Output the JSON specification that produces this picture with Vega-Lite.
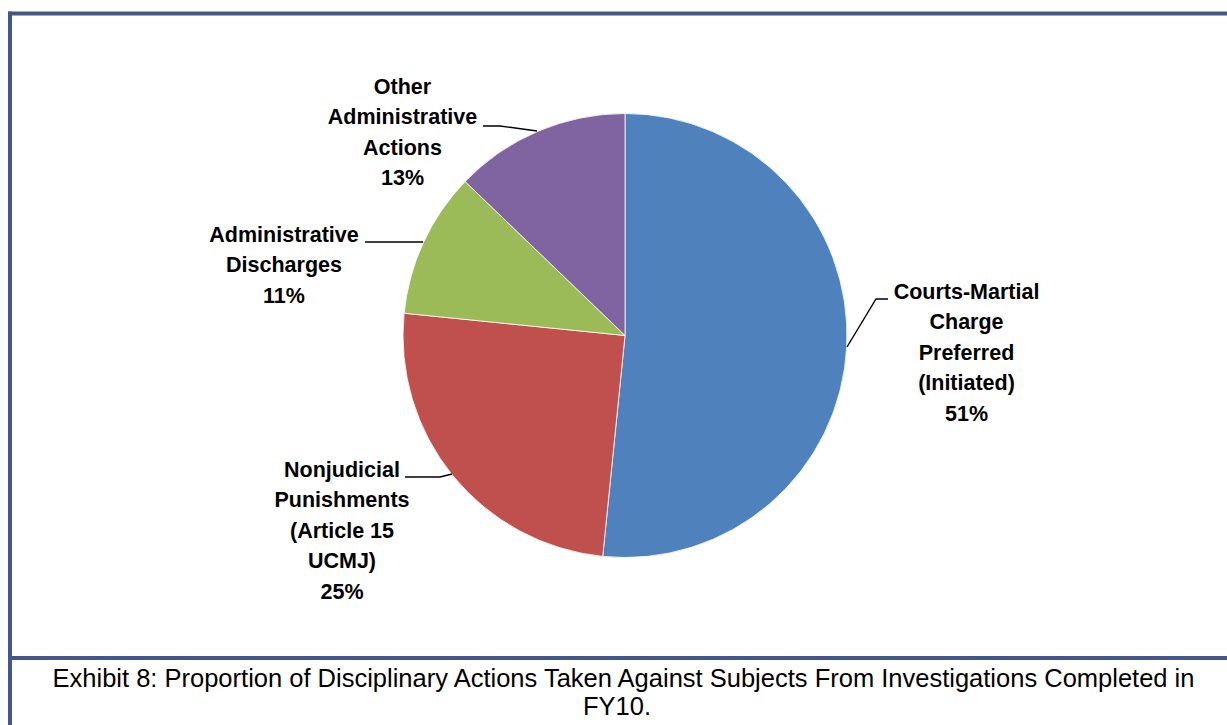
{
  "$schema": "https://vega.github.io/schema/vega-lite/v6.json",
  "width": 1204,
  "height": 671,
  "autosize": {"type": "none"},
  "padding": {"left": 23, "top": 0, "right": 0, "bottom": 54},
  "background": "white",
  "config": {"view": {"stroke": null}},
  "datasets": {
    "slices": [
      {"category": "Courts-Martial Charge Preferred (Initiated)", "value": 51.6, "idx": 1},
      {"category": "Nonjudicial Punishments (Article 15 UCMJ)", "value": 25.0, "idx": 2},
      {"category": "Administrative Discharges", "value": 10.6, "idx": 3},
      {"category": "Other Administrative Actions", "value": 12.8, "idx": 4}
    ],
    "labels": [
      {"lines": ["Courts-Martial", "Charge", "Preferred", "(Initiated)", "51%"], "lx": 966.5, "ly": 292.5},
      {"lines": ["Nonjudicial", "Punishments", "(Article 15", "UCMJ)", "25%"], "lx": 342, "ly": 470.5},
      {"lines": ["Administrative", "Discharges", "11%"], "lx": 284, "ly": 235.5},
      {"lines": ["Other", "Administrative", "Actions", "13%"], "lx": 402.5, "ly": 87.5}
    ],
    "leaders": [
      {"seg": "courts", "i": 0, "lx": 888, "ly": 299},
      {"seg": "courts", "i": 1, "lx": 876, "ly": 299},
      {"seg": "courts", "i": 2, "lx": 847, "ly": 347},
      {"seg": "other", "i": 0, "lx": 483, "ly": 126},
      {"seg": "other", "i": 1, "lx": 500, "ly": 126},
      {"seg": "other", "i": 2, "lx": 537, "ly": 131},
      {"seg": "discharges", "i": 0, "lx": 365, "ly": 242},
      {"seg": "discharges", "i": 1, "lx": 423, "ly": 242},
      {"seg": "nonjudicial", "i": 0, "lx": 405, "ly": 477},
      {"seg": "nonjudicial", "i": 1, "lx": 440, "ly": 477},
      {"seg": "nonjudicial", "i": 2, "lx": 452, "ly": 474}
    ],
    "frame": [
      {"x1": 8, "x2": 1227, "y1": 13.5, "y2": 13.5},
      {"x1": 10, "x2": 10, "y1": 11.5, "y2": 725},
      {"x1": 8, "x2": 1227, "y1": 658, "y2": 658}
    ],
    "caption": [
      {"text": "Exhibit 8: Proportion of Disciplinary Actions Taken Against Subjects From Investigations Completed in", "lx": 623.5, "ly": 678.5},
      {"text": "FY10.", "lx": 617, "ly": 707}
    ]
  },
  "layer": [
    {
      "data": {"name": "slices"},
      "mark": {"type": "arc", "outerRadius": 222, "stroke": "white", "strokeWidth": 0.8},
      "encoding": {
        "theta": {"field": "value", "type": "quantitative", "stack": true},
        "order": {"field": "idx", "type": "quantitative"},
        "color": {
          "field": "category",
          "type": "nominal",
          "scale": {
            "domain": ["Courts-Martial Charge Preferred (Initiated)", "Nonjudicial Punishments (Article 15 UCMJ)", "Administrative Discharges", "Other Administrative Actions"],
            "range": ["#4F81BD", "#C0504D", "#9BBB59", "#8064A2"]
          },
          "legend": null
        }
      }
    },
    {
      "data": {"name": "frame"},
      "mark": {"type": "rule", "strokeWidth": 4, "color": "#44578A"},
      "encoding": {
        "x": {"field": "x1", "type": "quantitative", "scale": {"domain": [23, 1227], "nice": false, "zero": false}, "axis": null},
        "x2": {"field": "x2"},
        "y": {"field": "y1", "type": "quantitative", "scale": {"domain": [0, 671], "reverse": true, "nice": false, "zero": false}, "axis": null},
        "y2": {"field": "y2"}
      }
    },
    {
      "data": {"name": "leaders"},
      "mark": {"type": "line", "color": "#000000", "strokeWidth": 1.4},
      "encoding": {
        "x": {"field": "lx", "type": "quantitative"},
        "y": {"field": "ly", "type": "quantitative"},
        "detail": {"field": "seg", "type": "nominal"},
        "order": {"field": "i", "type": "quantitative"}
      }
    },
    {
      "data": {"name": "labels"},
      "mark": {"type": "text", "font": "Liberation Sans", "fontWeight": "bold", "fontSize": 21.5, "lineHeight": 30.5, "align": "center", "baseline": "middle", "color": "#000000"},
      "encoding": {
        "x": {"field": "lx", "type": "quantitative"},
        "y": {"field": "ly", "type": "quantitative"},
        "text": {"field": "lines"}
      }
    },
    {
      "data": {"name": "caption"},
      "mark": {"type": "text", "font": "Liberation Sans", "fontSize": 25.5, "align": "center", "baseline": "middle", "color": "#000000"},
      "encoding": {
        "x": {"field": "lx", "type": "quantitative"},
        "y": {"field": "ly", "type": "quantitative"},
        "text": {"field": "text"}
      }
    }
  ]
}
